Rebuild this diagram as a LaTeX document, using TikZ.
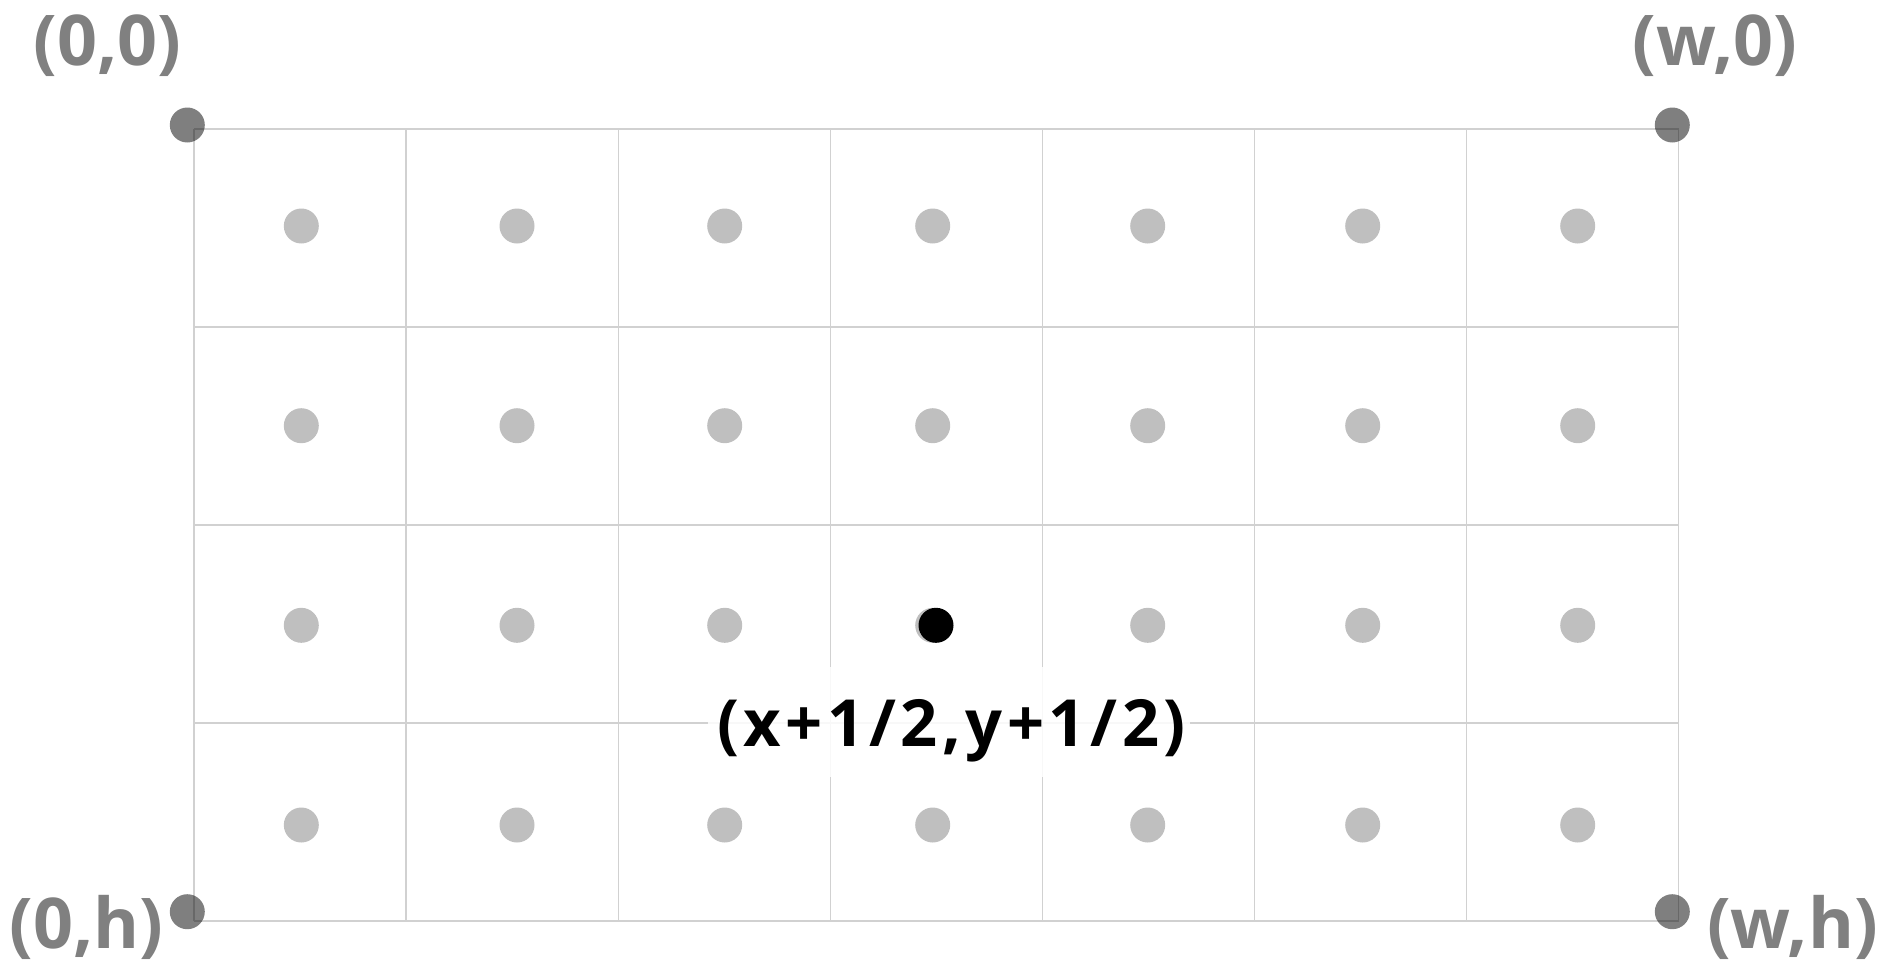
\documentclass[tikz,border=0pt]{standalone}
\usepackage{fontspec}
\setmainfont{Open Sans}
\newfontfamily\spacedfont[LetterSpace=7]{Open Sans}
\begin{document}
\begin{tikzpicture}[x=1pt,y=-1pt,
  gridline/.style={draw=black!18, line width=1.3pt},
  celldot/.style={circle, fill=black!25, minimum size=35pt, inner sep=0pt},
  cornerdot/.style={circle, fill=black, fill opacity=0.5, minimum size=35pt, inner sep=0pt},
  hidot/.style={circle, fill=black, minimum size=35pt, inner sep=0pt},
  cornerlabel/.style={anchor=base, inner sep=0pt, text=black!50, font=\fontsize{70}{78}\selectfont\bfseries},
  centerlabel/.style={anchor=base, inner sep=0pt, text=black, font=\spacedfont\fontsize{65}{72}\selectfont\bfseries}]
\useasboundingbox (0,0) rectangle (1889,961);
% grid
\foreach \i in {0,...,7} {
  \draw[gridline] ({194+\i*212.1},129) -- ({194+\i*212.1},921);
}
\foreach \j in {0,...,4} {
  \draw[gridline] (194,{129+\j*198}) -- (1679,{129+\j*198});
}
% cell dots
\foreach \x [count=\i] in {301.3,517,724.7,932.7,1147.7,1362.7,1577.7} {
  \foreach \y [count=\j] in {226,425.7,625.3,825} {
    \node[celldot] (d\i\j) at (\x,\y) {};
  }
}
\node[hidot] (hi) at (936,625.3) {};
% corner dots
\node[cornerdot] (c00) at (187.3,125) {};
\node[cornerdot] (cw0) at (1672.3,125) {};
\node[cornerdot] (c0h) at (187.3,911.7) {};
\node[cornerdot] (cwh) at (1672.3,911.7) {};
% corner labels
\node[cornerlabel] (l00) at (107.5,65) {(0,0)};
\node[cornerlabel] (lw0) at (1715,65) {(w,0)};
\node[cornerlabel] (l0h) at (86.5,948) {(0,h)};
\node[cornerlabel] (lwh) at (1792.5,948) {(w,h)};
% center label
\fill[white, fill opacity=0.85] (708,667) rectangle (1190,777);
\node[centerlabel] (lc) at (951.5,746) {(x+1/2,y+1/2)};
\end{tikzpicture}
\end{document}
